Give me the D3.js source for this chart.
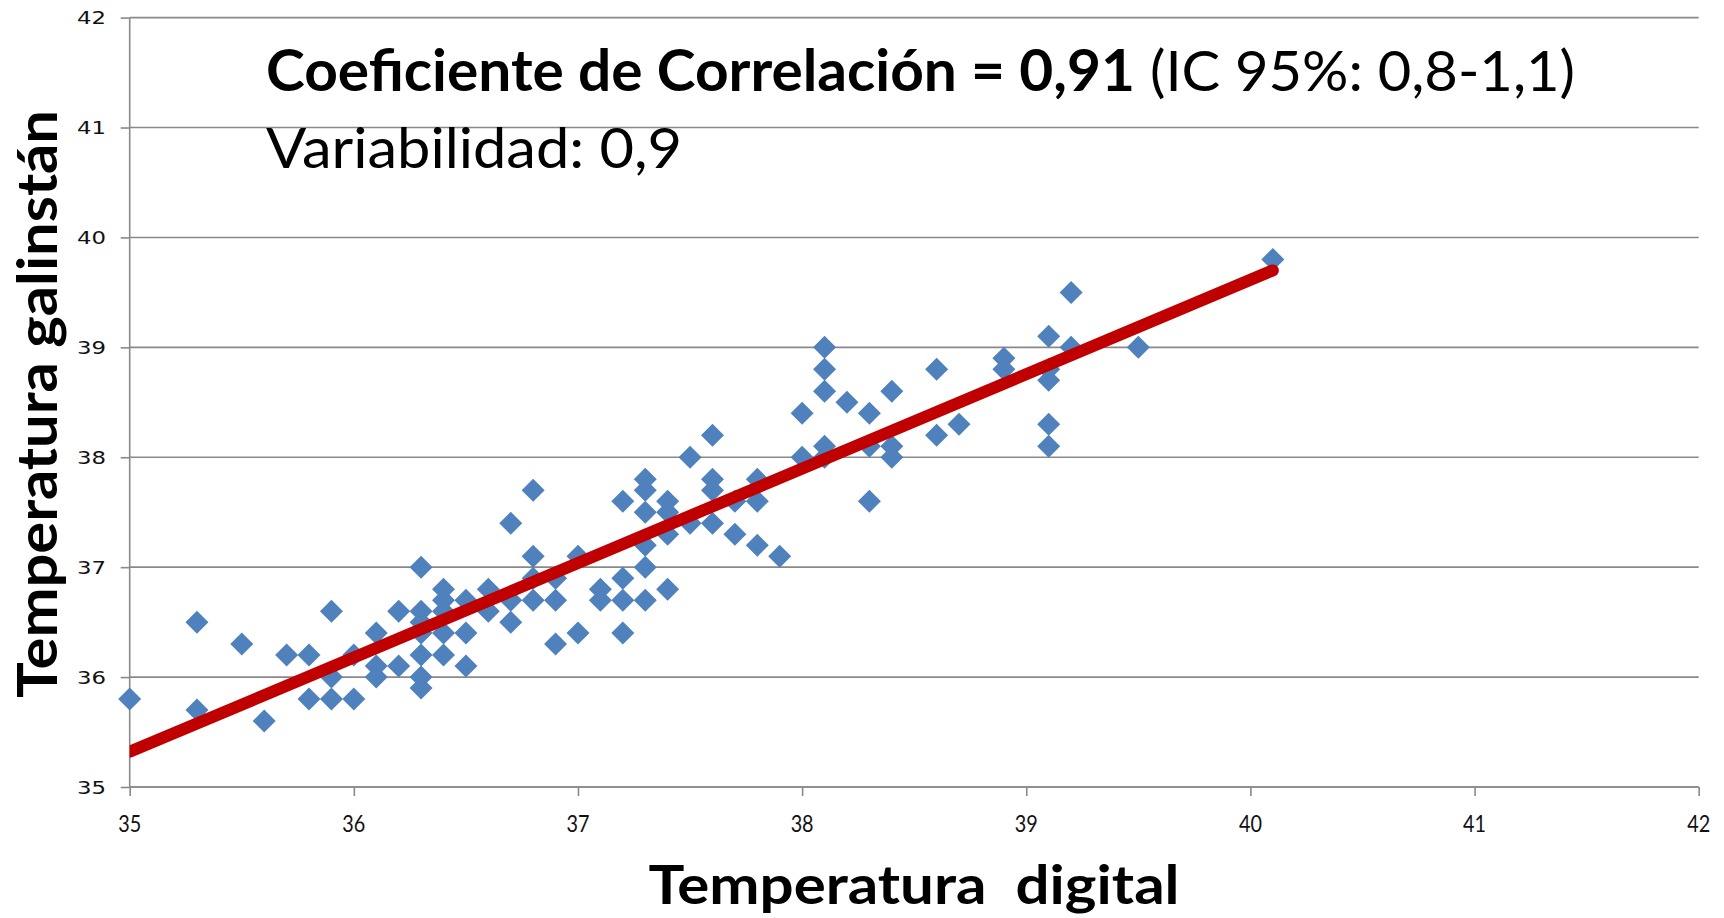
<!DOCTYPE html>
<html>
<head>
<meta charset="utf-8">
<script src="https://cdn.jsdelivr.net/npm/d3@7"></script>
<style>
  html, body { margin: 0; padding: 0; background: #fff; }
  svg { display: block; }
</style>
</head>
<body>
<svg id="chart" width="1724" height="918"></svg>
<script>
// ---- data ----
const xValues = [
  35.0, 35.3, 35.3, 35.5, 35.6, 35.7, 35.8, 35.8, 35.9, 35.9, 35.9, 36.0, 36.0,
  36.1, 36.1, 36.1, 36.2, 36.2,
  36.3, 36.3, 36.3, 36.3, 36.3, 36.3, 36.3,
  36.4, 36.4, 36.4, 36.4, 36.4,
  36.5, 36.5, 36.5, 36.6, 36.6,
  36.7, 36.7, 36.7,
  36.8, 36.8, 36.8, 36.8,
  36.9, 36.9, 36.9, 37.0, 37.0, 37.1, 37.1,
  37.2, 37.2, 37.2, 37.2,
  37.3, 37.3, 37.3, 37.3, 37.3, 37.3,
  37.4, 37.4, 37.4, 37.4,
  37.5, 37.5,
  37.6, 37.6, 37.6, 37.6,
  37.7, 37.7, 37.8, 37.8, 37.8, 37.9,
  38.0, 38.0,
  38.1, 38.1, 38.1, 38.1, 38.1,
  38.2, 38.3, 38.3, 38.3,
  38.4, 38.4, 38.4,
  38.6, 38.6, 38.7, 38.9, 38.9,
  39.1, 39.1, 39.1, 39.1, 39.1,
  39.2, 39.2, 39.5, 40.1
];
const yValues = [
  35.8, 36.5, 35.7, 36.3, 35.6, 36.2, 36.2, 35.8, 36.6, 36.0, 35.8, 36.2, 35.8,
  36.4, 36.1, 36.0, 36.6, 36.1,
  37.0, 36.6, 36.5, 36.4, 36.2, 36.0, 35.9,
  36.8, 36.7, 36.6, 36.4, 36.2,
  36.7, 36.4, 36.1, 36.8, 36.6,
  37.4, 36.7, 36.5,
  37.7, 37.1, 36.9, 36.7,
  36.9, 36.7, 36.3, 37.1, 36.4, 36.8, 36.7,
  37.6, 36.9, 36.7, 36.4,
  37.8, 37.7, 37.5, 37.2, 37.0, 36.7,
  37.6, 37.5, 37.3, 36.8,
  38.0, 37.4,
  38.2, 37.8, 37.7, 37.4,
  37.6, 37.3, 37.8, 37.6, 37.2, 37.1,
  38.4, 38.0,
  39.0, 38.8, 38.6, 38.1, 38.0,
  38.5, 38.4, 38.1, 37.6,
  38.6, 38.1, 38.0,
  38.8, 38.2, 38.3, 38.9, 38.8,
  39.1, 38.8, 38.7, 38.3, 38.1,
  39.5, 39.0, 39.0, 39.8
];
const trendX = [35.0, 40.1];
const trendY = [35.32, 39.70];
const xTicks = [35, 36, 37, 38, 39, 40, 41, 42];
const yTicks = [35, 36, 37, 38, 39, 40, 41, 42];
const xTitle = "Temperatura  digital";
const yTitle = "Temperatura galinstán";
const headBold = "Coeficiente de Correlación = 0,91";
const headNormal = "(IC 95%: 0,8-1,1)";
const subText = "Variabilidad: 0,9";

// ---- layout ----
const svg = d3.select("#chart");
const pL = 129.7, pR = 1698.7, pT = 17.6, pB = 787;
const x = d3.scaleLinear().domain([35, 42]).range([pL, pR]);
const y = d3.scaleLinear().domain([35, 42]).range([pB, pT]);
const gridColor = "#898989";
const font = "Lato, 'Open Sans', sans-serif";

// horizontal gridlines
svg.append("g").selectAll("line").data(yTicks).join("line")
  .attr("x1", pL).attr("x2", pR)
  .attr("y1", d => y(d)).attr("y2", d => y(d))
  .attr("stroke", gridColor).attr("stroke-width", 1.6);

// axes
const xAxis = d3.axisBottom(x).tickValues(xTicks).tickSize(9).tickFormat("");
const gx = svg.append("g").attr("transform", `translate(0,${pB})`).call(xAxis);
gx.selectAll("path,line").attr("stroke", gridColor).attr("stroke-width", 1.6);
gx.select(".domain").attr("d", `M${pL},0H${pR}`);

const yAxis = d3.axisLeft(y).tickValues(yTicks).tickSize(9).tickFormat("");
const gy = svg.append("g").attr("transform", `translate(${pL},0)`).call(yAxis);
gy.selectAll("path,line").attr("stroke", gridColor).attr("stroke-width", 1.6);
gy.select(".domain").attr("d", `M0,${pB}V${pT}`);

// tick labels
svg.append("g").selectAll("text").data(xTicks).join("text")
  .attr("x", d => x(d)).attr("y", 832)
  .attr("text-anchor", "middle")
  .attr("font-family", font).attr("font-size", 24).attr("fill", "#111")
  .attr("textLength", 23).attr("lengthAdjust", "spacingAndGlyphs")
  .text(d => d);

svg.append("g").selectAll("text").data(yTicks).join("text")
  .attr("x", 77).attr("y", d => y(d) + 6.5)
  .attr("textLength", 29).attr("lengthAdjust", "spacingAndGlyphs")
  .attr("font-family", "'DejaVu Sans', sans-serif").attr("font-size", 17).attr("fill", "#111")
  .text(d => d);

// clip for trend line
svg.append("clipPath").attr("id", "plotclip")
  .append("rect").attr("x", pL).attr("y", pT).attr("width", pR - pL).attr("height", pB - pT);

// points (diamonds)
const r = 11.5;
svg.append("g").selectAll("path").data(xValues.map((v, i) => [v, yValues[i]])).join("path")
  .attr("d", d => {
    const cx = x(d[0]), cy = y(d[1]);
    return `M${cx},${cy - r}L${cx + r},${cy}L${cx},${cy + r}L${cx - r},${cy}Z`;
  })
  .attr("fill", "#4F81BD");

// trend line
svg.append("line")
  .attr("clip-path", "url(#plotclip)")
  .attr("x1", x(trendX[0])).attr("y1", y(trendY[0]))
  .attr("x2", x(trendX[1])).attr("y2", y(trendY[1]))
  .attr("stroke", "#C00000").attr("stroke-width", 12).attr("stroke-linecap", "round");

// heading texts
svg.append("text").attr("x", 266).attr("y", 91)
  .attr("font-family", font).attr("font-weight", "bold").attr("font-size", 57)
  .attr("textLength", 869).attr("lengthAdjust", "spacingAndGlyphs").attr("fill", "#000")
  .text(headBold);
svg.append("text").attr("x", 1150).attr("y", 91)
  .attr("font-family", font).attr("font-size", 57)
  .attr("textLength", 425).attr("lengthAdjust", "spacingAndGlyphs").attr("fill", "#000")
  .text(headNormal);
svg.append("text").attr("x", 266).attr("y", 168)
  .attr("font-family", font).attr("font-size", 57)
  .attr("textLength", 416).attr("lengthAdjust", "spacingAndGlyphs").attr("fill", "#000")
  .text(subText);

// axis titles
svg.append("text").attr("x", 914).attr("y", 904)
  .attr("text-anchor", "middle")
  .style("white-space", "pre")
  .attr("font-family", font).attr("font-weight", "bold").attr("font-size", 54)
  .attr("textLength", 531).attr("lengthAdjust", "spacingAndGlyphs").attr("fill", "#000")
  .text(xTitle);
svg.append("text")
  .attr("transform", `translate(57,404) rotate(-90)`)
  .attr("text-anchor", "middle")
  .attr("font-family", font).attr("font-weight", "bold").attr("font-size", 56)
  .attr("textLength", 588).attr("lengthAdjust", "spacingAndGlyphs").attr("fill", "#000")
  .text(yTitle);
</script>
</body>
</html>
